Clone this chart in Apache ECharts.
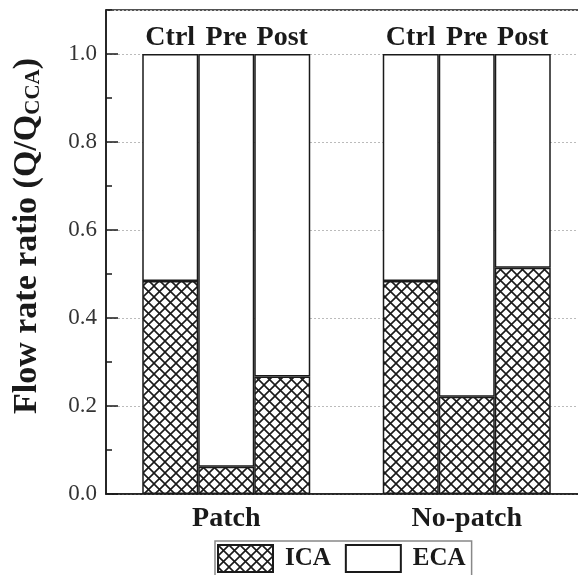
<!DOCTYPE html>
<html>
<head>
<meta charset="utf-8">
<script src="https://cdn.jsdelivr.net/npm/echarts@6/dist/echarts.min.js"></script>
<style>html,body{margin:0;padding:0;background:#fff;}#c{width:578px;height:575px;}</style>
</head>
<body>
<div id="c"></div>
<script>
const groups = ['Patch', 'No-patch'];
const conditions = ['Ctrl', 'Pre', 'Post'];
const icaCtrl = [0.484, 0.484];
const icaPre = [0.062, 0.221];
const icaPost = [0.267, 0.514];
const ecaCtrl = [0.516, 0.516];
const ecaPre = [0.938, 0.779];
const ecaPost = [0.733, 0.486];
const yTicks = [0, 0.2, 0.4, 0.6, 0.8, 1.0];

const FONT = "'Liberation Serif', 'Times New Roman', serif";
const INK = '#1a1a1a';

// crosshatch pattern tile
const T = 11;
const tile = document.createElement('canvas');
tile.width = T; tile.height = T;
const g = tile.getContext('2d');
g.fillStyle = '#fff'; g.fillRect(0, 0, T, T);
g.strokeStyle = INK; g.lineWidth = 1.6;
g.beginPath();
g.moveTo(-2, -2); g.lineTo(T + 2, T + 2);
g.moveTo(T + 2, -2); g.lineTo(-2, T + 2);
g.stroke();
const hatch = { image: tile, repeat: 'repeat' };

const icaData = [icaCtrl, icaPre, icaPost];
const ecaData = [ecaCtrl, ecaPre, ecaPost];
const stacks = ['s0', 's1', 's2'];

const series = [];
for (let i = 0; i < 3; i++) {
  series.push({
    name: 'ICA', type: 'bar', stack: stacks[i], barWidth: 56, barGap: '0%',
    data: icaData[i],
    itemStyle: { color: hatch, borderColor: INK, borderWidth: 1.5 },
    emphasis: { disabled: true }
  });
}
for (let i = 0; i < 3; i++) {
  series.push({
    name: 'ECA', type: 'bar', stack: stacks[i], barWidth: 56, barGap: '0%',
    data: ecaData[i],
    itemStyle: { color: '#fff', borderColor: INK, borderWidth: 1.5 },
    label: {
      show: true, position: 'top', distance: 2,
      formatter: conditions[i],
      fontFamily: FONT, fontWeight: 'bold', fontSize: 28, color: INK
    },
    emphasis: { disabled: true }
  });
}

const chart = echarts.init(document.getElementById('c'), null, { renderer: 'canvas' });
chart.setOption({
  animation: false,
  backgroundColor: '#fff',
  grid: {
    left: 106, top: 10, width: 481, height: 484,
    containLabel: false, outerBoundsMode: 'none',
    show: true, borderColor: INK, borderWidth: 1.5, backgroundColor: 'transparent'
  },
  legend: {
    data: ['ICA', 'ECA'],
    left: 215, top: 541,
    orient: 'horizontal',
    itemWidth: 55, itemHeight: 27, itemGap: 14,
    padding: [3, 6, 3, 2],
    borderColor: '#888', borderWidth: 1.5,
    icon: 'rect',
    selectedMode: false,
    textStyle: { fontFamily: FONT, fontWeight: 'bold', fontSize: 25, color: INK, padding: [0, 0, 0, 7] }
  },
  xAxis: {
    type: 'category', data: groups,
    axisLine: { lineStyle: { color: INK, width: 1.5 } },
    axisTick: { show: false },
    axisLabel: { fontFamily: FONT, fontWeight: 'bold', fontSize: 28, color: INK, margin: 11 },
    splitLine: { show: false }
  },
  yAxis: [
    {
      type: 'value', min: 0, max: 1.1, interval: 0.2,
      axisLine: { show: true, lineStyle: { color: INK, width: 1.5 } },
      axisTick: { show: true, inside: true, length: 12, lineStyle: { color: INK, width: 1.5 } },
      axisLabel: {
        showMaxLabel: false, margin: 9,
        fontFamily: FONT, fontSize: 23, color: '#333',
        formatter: v => (yTicks.some(t => Math.abs(t - v) < 1e-6) ? v.toFixed(1) : '')
      },
      splitLine: { show: true, lineStyle: { color: '#bbb', width: 1, type: [2, 2] } },
      name: '{a|Flow rate ratio (Q/Q}{b|CCA}{a|)}',
      nameLocation: 'middle', nameGap: 62, nameRotate: 90,
      nameTextStyle: {
        padding: [0, 0, 0, 32],
        rich: {
          a: { fontFamily: FONT, fontWeight: 'bold', fontSize: 34, color: INK, lineHeight: 38, verticalAlign: 'bottom' },
          b: { fontFamily: FONT, fontWeight: 'bold', fontSize: 21, color: INK, lineHeight: 21, verticalAlign: 'bottom' }
        }
      }
    },
    {
      type: 'value', min: 0, max: 1.1, interval: 0.1, position: 'left',
      axisLine: { show: false },
      axisTick: { show: true, inside: true, length: 6, lineStyle: { color: INK, width: 1.5 } },
      axisLabel: { show: false },
      splitLine: { show: false }
    }
  ],
  series: series
});
</script>
</body>
</html>
